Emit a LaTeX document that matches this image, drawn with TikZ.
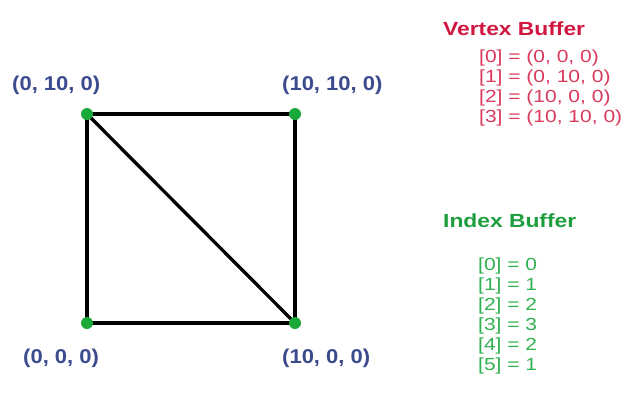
\documentclass[tikz,border=0pt]{standalone}
\usepackage{fontspec}
\setmainfont{Liberation Sans}
\newfontfamily\widefont[FakeStretch=1.2]{Liberation Sans}
\newfontfamily\coordfont[FakeStretch=1.1]{Liberation Sans}
\definecolor{cblue}{HTML}{3C4A8E}
\definecolor{vred}{HTML}{D0173F}
\definecolor{lred}{HTML}{DA3A5C}
\definecolor{igreen}{HTML}{1E9E3E}
\definecolor{lgreen}{HTML}{30B050}
\definecolor{dotgreen}{HTML}{1AA83A}
\begin{document}
\begin{tikzpicture}[x=1pt,y=-1pt,
  vdot/.style={circle,fill=dotgreen,inner sep=0pt,minimum size=12pt},
  edge/.style={line width=3.3pt,black},
  clab/.style={anchor=base west,inner sep=0pt,text=cblue,font=\coordfont\fontsize{20}{24}\selectfont\bfseries},
  ttl/.style={anchor=base west,inner sep=0pt,font=\widefont\fontsize{19}{23}\selectfont\bfseries},
  item/.style={anchor=base west,inner sep=0pt,font=\widefont\fontsize{17.5}{21}\selectfont}]
\useasboundingbox (0,0) rectangle (630,405);
\coordinate (tl) at (87,114);
\coordinate (tr) at (295,114);
\coordinate (bl) at (87,323);
\coordinate (br) at (295,323);
\draw[edge] (tl) -- (tr) -- (br) -- (bl) -- cycle;
\draw[edge] (tl) -- (br);
\node[vdot] (v1) at (tl) {};
\node[vdot] (v3) at (tr) {};
\node[vdot] (v0) at (bl) {};
\node[vdot] (v2) at (br) {};
\node[clab] (l1) at (12,90) {(0, 10, 0)};
\node[clab] (l3) at (282,90) {(10, 10, 0)};
\node[clab] (l0) at (23,363) {(0, 0, 0)};
\node[clab] (l2) at (282,363) {(10, 0, 0)};
\node[ttl,text=vred] (vb) at (443,35) {Vertex Buffer};
\node[item,text=lred] (vb0) at (479,62) {[0] = (0, 0, 0)};
\node[item,text=lred] (vb1) at (479,82) {[1] = (0, 10, 0)};
\node[item,text=lred] (vb2) at (479,102) {[2] = (10, 0, 0)};
\node[item,text=lred] (vb3) at (479,122) {[3] = (10, 10, 0)};
\node[ttl,text=igreen] (ib) at (443,227) {Index Buffer};
\node[item,text=lgreen] (ib0) at (478,270) {[0] = 0};
\node[item,text=lgreen] (ib1) at (478,290) {[1] = 1};
\node[item,text=lgreen] (ib2) at (478,310) {[2] = 2};
\node[item,text=lgreen] (ib3) at (478,330) {[3] = 3};
\node[item,text=lgreen] (ib4) at (478,350) {[4] = 2};
\node[item,text=lgreen] (ib5) at (478,370) {[5] = 1};
\end{tikzpicture}
\end{document}
